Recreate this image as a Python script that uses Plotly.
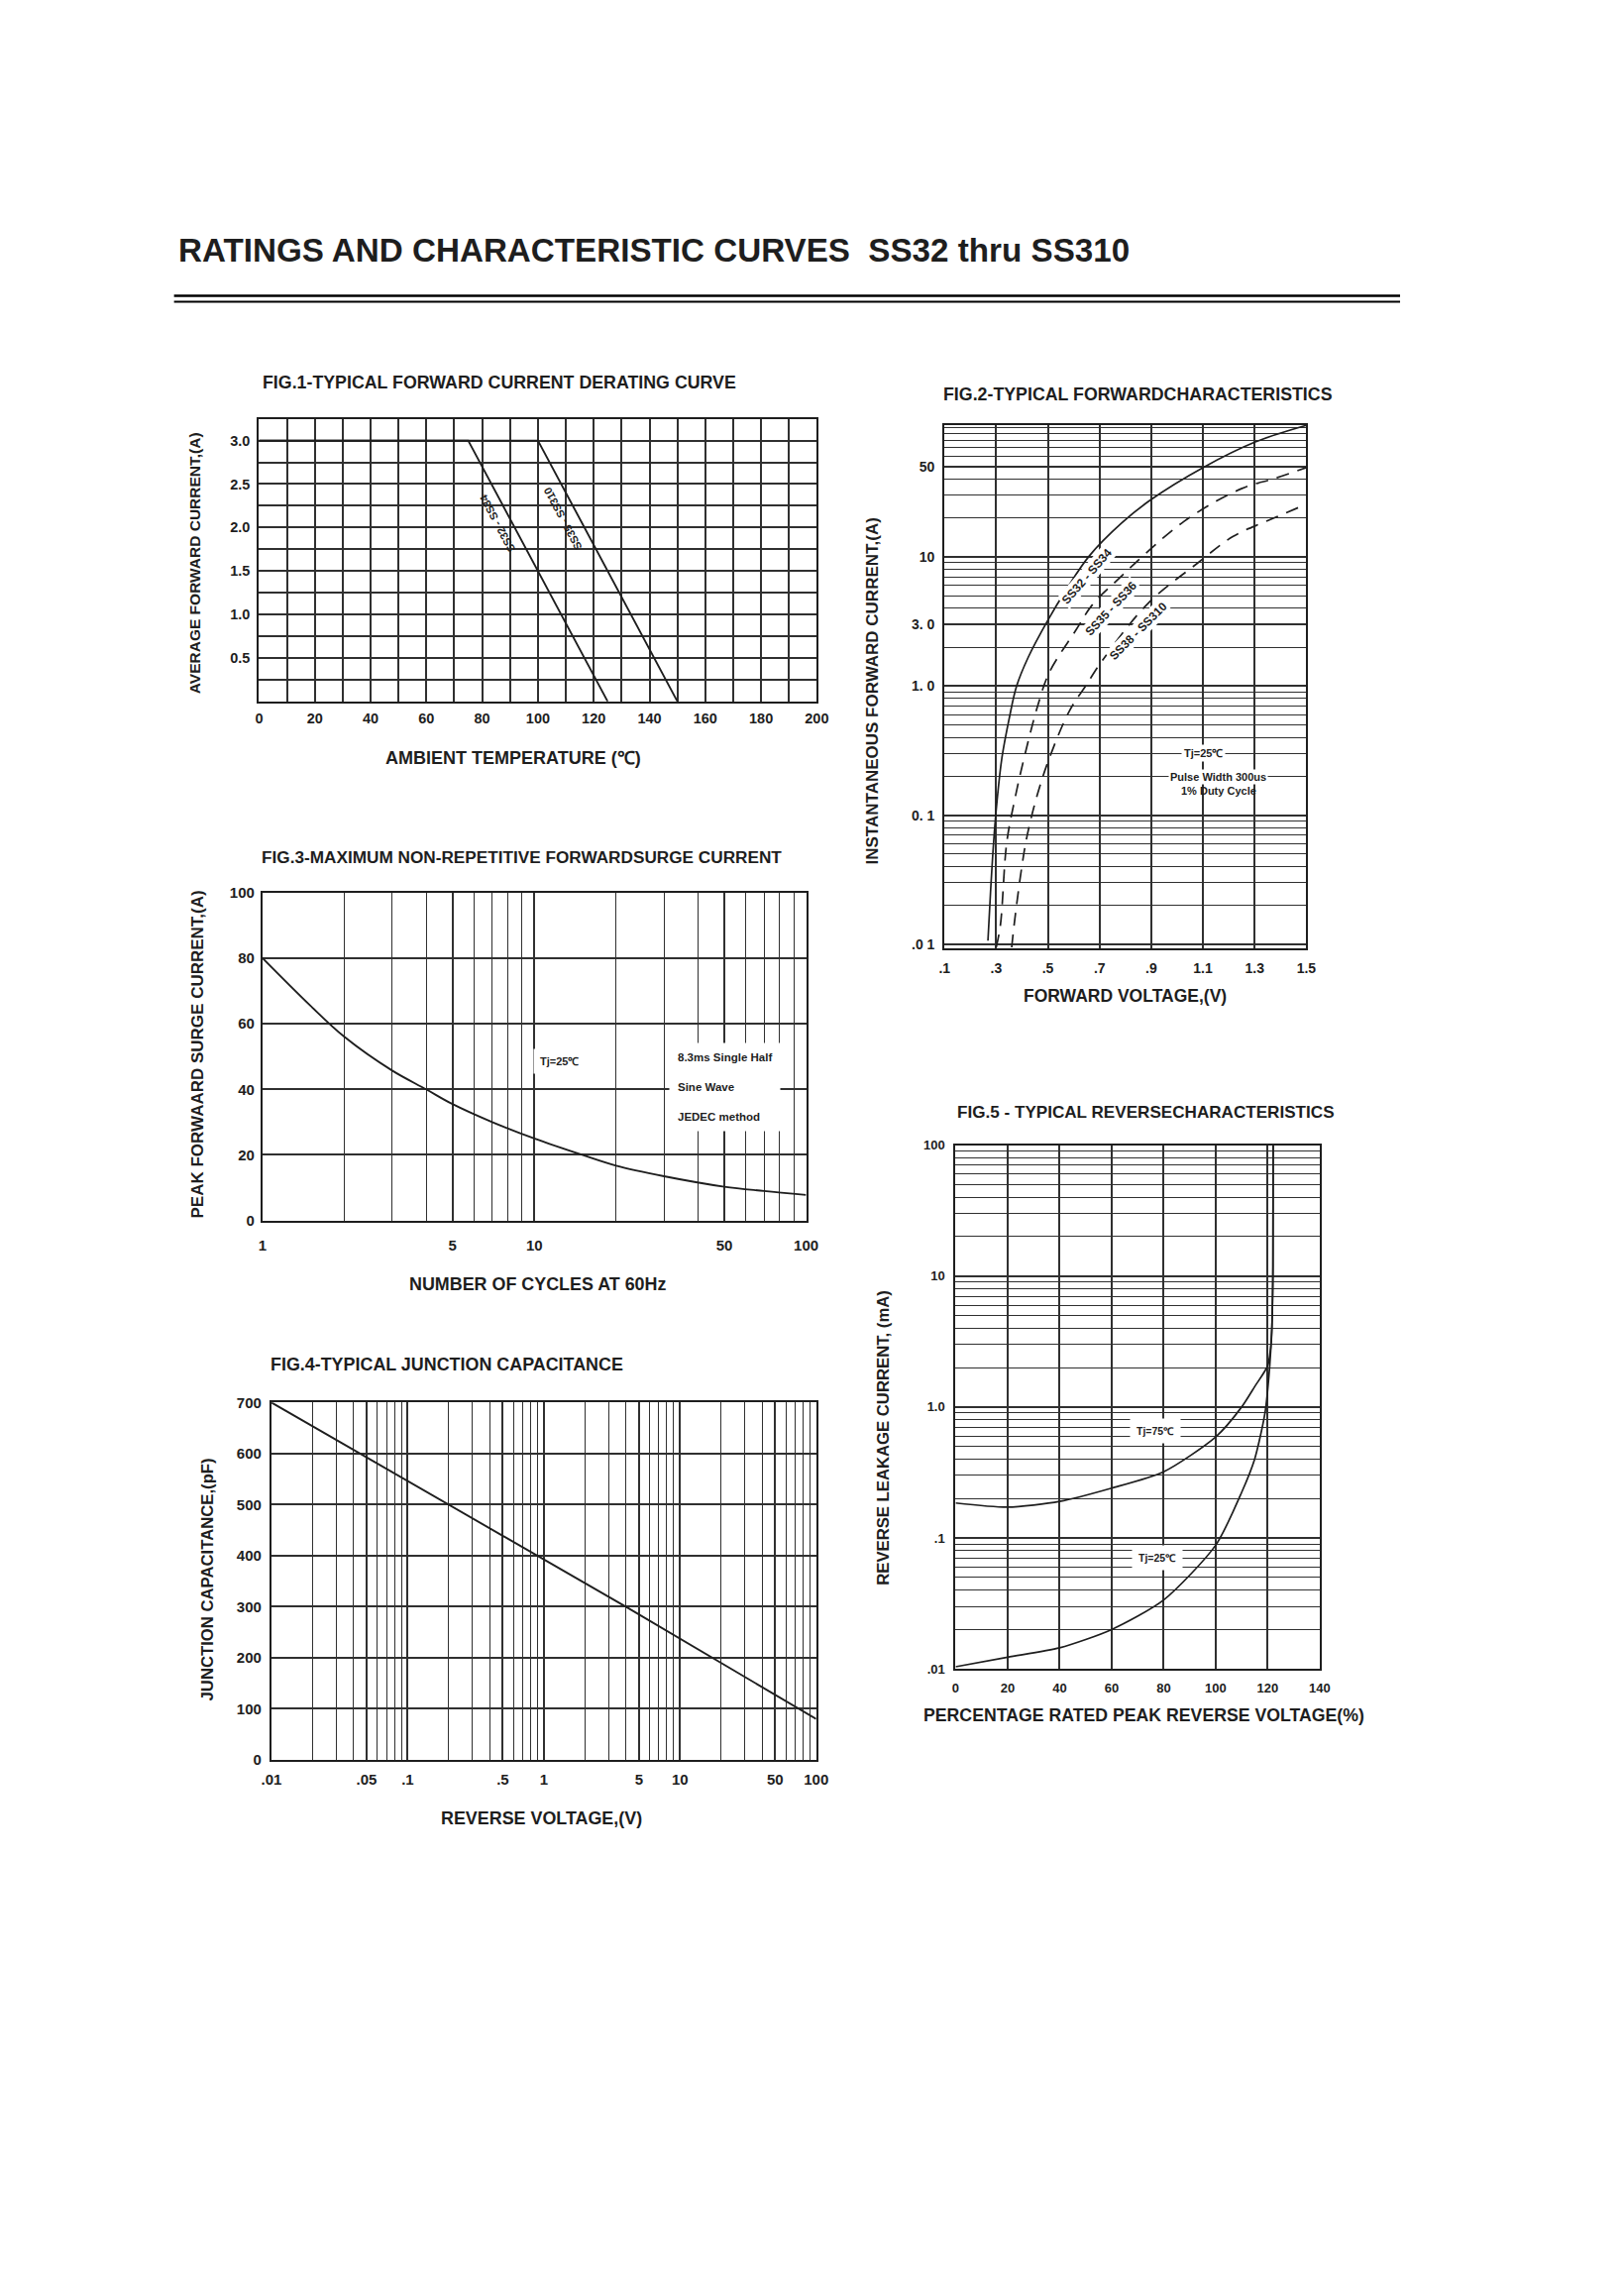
import plotly.graph_objects as go

W, H = 1638, 2317

# FIG.1 derating curve
temp_ss32_34 = [0, 75, 125]
amp_ss32_34 = [3.0, 3.0, 0.0]
temp_ss35_310 = [0, 100, 150]
amp_ss35_310 = [3.0, 3.0, 0.0]

# FIG.2 forward characteristics
vf_ss32_34 = [0.268, 0.278, 0.29, 0.303, 0.322, 0.351, 0.379, 0.424, 0.5, 0.57, 0.659, 0.786, 0.9, 1.1, 1.3, 1.5]
if_ss32_34 = [0.0107, 0.0254, 0.062, 0.128, 0.278, 0.57, 1.0, 1.67, 3.23, 5.53, 10.1, 18.3, 27.8, 49, 77, 104]
vf_ss35_36 = [0.30, 0.316, 0.341, 0.373, 0.405, 0.462, 0.506, 0.608, 0.671, 0.748, 1.027, 1.249, 1.376, 1.5]
if_ss35_36 = [0.0095, 0.014, 0.062, 0.136, 0.262, 0.72, 1.28, 2.7, 4.23, 6.05, 18.8, 33.7, 40.3, 49]
vf_ss38_310 = [0.36, 0.369, 0.398, 0.42, 0.459, 0.506, 0.583, 0.646, 0.71, 0.887, 1.078, 1.217, 1.344, 1.5]
if_ss38_310 = [0.0095, 0.014, 0.0386, 0.070, 0.144, 0.278, 0.64, 1.0, 1.57, 4.35, 8.9, 14.4, 18.8, 25.5]

# FIG.3 surge current
cycles = [1, 1.5, 2, 3, 4, 5, 7, 10, 15, 20, 30, 50, 70, 100]
surge_amp = [80, 65.5, 56, 45.7, 40, 35.5, 30, 25, 20, 16.7, 13.5, 10.3, 9, 7.8]

# FIG.4 junction capacitance
rev_volt = [0.01, 0.2, 4, 100]
cap_pf = [700, 500, 300, 80]

# FIG.5 reverse characteristics
pct_75 = [0, 20, 40, 60, 80, 100, 110, 115, 120, 121.4, 122, 122.1]
ir_75 = [0.185, 0.172, 0.19, 0.24, 0.32, 0.59, 1.0, 1.43, 2.07, 3.2, 10, 100]
pct_25 = [0, 20, 40, 60, 80, 100, 110, 115, 119, 120.8, 121.6, 122.05, 122.1]
ir_25 = [0.0104, 0.0123, 0.0145, 0.02, 0.0336, 0.088, 0.223, 0.40, 0.91, 2.07, 4.0, 12, 100]

# tick labels
fig1_xticks = list(range(0, 201, 20))
fig1_yticks = [0.5, 1.0, 1.5, 2.0, 2.5, 3.0]
fig2_xticks = [0.1, 0.3, 0.5, 0.7, 0.9, 1.1, 1.3, 1.5]
fig2_xtext = [".1", ".3", ".5", ".7", ".9", "1.1", "1.3", "1.5"]
fig2_yticks = [0.01, 0.1, 1, 3, 10, 50]
fig2_ytext = [".0 1", "0. 1", "1. 0", "3. 0", "10", "50"]
fig3_xticks = [1, 5, 10, 50, 100]
fig3_yticks = [0, 20, 40, 60, 80, 100]
fig4_xticks = [0.01, 0.05, 0.1, 0.5, 1, 5, 10, 50, 100]
fig4_xtext = [".01", ".05", ".1", ".5", "1", "5", "10", "50", "100"]
fig4_yticks = list(range(0, 701, 100))
fig5_xticks = list(range(0, 141, 20))
fig5_yticks = [0.01, 0.1, 1, 10, 100]
fig5_ytext = [".01", ".1", "1.0", "10", "100"]

LOG_DIGITS = [1, 2, 3, 4, 5, 6, 7, 8, 9]


def log_grid(lo_exp, hi_exp):
    vals = [d * 10.0 ** e for e in range(lo_exp, hi_exp) for d in LOG_DIGITS]
    return vals + [10.0 ** hi_exp]


FONT = "Liberation Sans, Arial, sans-serif"
INK = "#1e1e1e"
GRID = "#303030"


def xdom(a, b):
    return [a / W, b / W]


def ydom(top, bottom):
    return [1 - bottom / H, 1 - top / H]


def tfont(size):
    return dict(family=FONT, size=size, color=INK, weight="bold")


def axis(domain, anchor, size, **kw):
    d = dict(domain=domain, anchor=anchor, showgrid=True, gridcolor=GRID, gridwidth=1.7,
             zeroline=False, showline=True, mirror=True, linecolor=INK, linewidth=2.2,
             ticks="", tickfont=tfont(size))
    d.update(kw)
    return d


fig = go.Figure()
line_style = dict(color=INK, width=1.9)
dashed = dict(color=INK, width=1.7, shape="spline", dash="13px,9px")

fig.add_trace(go.Scatter(x=temp_ss32_34, y=amp_ss32_34, xaxis="x", yaxis="y", mode="lines", line=line_style))
fig.add_trace(go.Scatter(x=temp_ss35_310, y=amp_ss35_310, xaxis="x", yaxis="y", mode="lines", line=line_style))

fig.add_trace(go.Scatter(x=vf_ss32_34, y=if_ss32_34, xaxis="x2", yaxis="y2", mode="lines",
                         line=dict(color=INK, width=1.7, shape="spline")))
fig.add_trace(go.Scatter(x=vf_ss35_36, y=if_ss35_36, xaxis="x2", yaxis="y2", mode="lines", line=dashed))
fig.add_trace(go.Scatter(x=vf_ss38_310, y=if_ss38_310, xaxis="x2", yaxis="y2", mode="lines", line=dashed))

fig.add_trace(go.Scatter(x=cycles, y=surge_amp, xaxis="x3", yaxis="y3", mode="lines",
                         line=dict(color=INK, width=1.9, shape="spline")))

fig.add_trace(go.Scatter(x=rev_volt, y=cap_pf, xaxis="x4", yaxis="y4", mode="lines", line=line_style))

fig.add_trace(go.Scatter(x=pct_75, y=ir_75, xaxis="x5", yaxis="y5", mode="lines",
                         line=dict(color=INK, width=1.7, shape="spline", smoothing=0.7)))
fig.add_trace(go.Scatter(x=pct_25, y=ir_25, xaxis="x5", yaxis="y5", mode="lines",
                         line=dict(color=INK, width=1.7, shape="spline", smoothing=0.7)))


def minor_lin(step):
    return dict(dtick=step, showgrid=True, gridcolor=GRID, gridwidth=1.7, ticks="")


def minor_log(lo, hi):
    return dict(tickmode="array", tickvals=log_grid(lo, hi), showgrid=True,
                gridcolor=GRID, gridwidth=1.4, ticks="")


fig.update_layout(
    width=W, height=H, margin=dict(l=0, r=0, t=0, b=0),
    paper_bgcolor="white", plot_bgcolor="white", showlegend=False,
    xaxis=axis(xdom(255, 826), "y", 14.5, range=[0, 200], tickvals=fig1_xticks, minor=minor_lin(10),
               ticklabelstandoff=3),
    yaxis=axis(ydom(416.7, 704), "x", 14.5, range=[0, 3.25], tickvals=fig1_yticks,
               ticktext=[f"{v:.1f}" for v in fig1_yticks], minor=minor_lin(0.25), ticklabelstandoff=4),
    xaxis2=axis(xdom(956.7, 1327), "y2", 14, range=[0.1, 1.5], tickvals=fig2_xticks, ticktext=fig2_xtext,
                ticklabelstandoff=6),
    yaxis2=axis(ydom(423, 955), "x2", 14, type="log", range=[-2.03, 2.02], tickvals=fig2_yticks,
                ticktext=fig2_ytext, minor=minor_log(-2, 2), ticklabelstandoff=5),
    xaxis3=axis(xdom(258.6, 815), "y3", 15, type="log", range=[0, 2], tickvals=fig3_xticks,
                ticktext=[str(v) for v in fig3_xticks], minor=minor_log(0, 2), ticklabelstandoff=10),
    yaxis3=axis(ydom(898.3, 1231.7), "x3", 15, range=[0, 100], tickvals=fig3_yticks, ticklabelstandoff=3),
    xaxis4=axis(xdom(267.7, 825.3), "y4", 15, type="log", range=[-2, 2], tickvals=fig4_xticks,
                ticktext=fig4_xtext, minor=minor_log(-2, 2), ticklabelstandoff=5),
    yaxis4=axis(ydom(1416.7, 1780), "x4", 15, range=[0, 700], tickvals=fig4_yticks, ticklabelstandoff=5),
    xaxis5=axis(xdom(968, 1340.7), "y5", 13, range=[0, 140], tickvals=fig5_xticks, ticklabelstandoff=6),
    yaxis5=axis(ydom(1155, 1687.6), "x5", 13, type="log", range=[-2, 2], tickvals=fig5_yticks,
                ticktext=fig5_ytext, minor=minor_log(-2, 2), ticklabelstandoff=6),
)


def label(text, px, py, size, angle=0, xanchor="center", bg=None, pad=1, align="center"):
    fig.add_annotation(text=text, x=px / W, y=1 - py / H, xref="paper", yref="paper",
                       showarrow=False, textangle=angle, xanchor=xanchor, yanchor="middle",
                       align=align, bgcolor=bg, borderpad=pad, font=tfont(size))


# page header and double rule
label("RATINGS AND CHARACTERISTIC CURVES  SS32 thru SS310", 170, 245, 33.2, xanchor="left")
for rule_y, rule_w in [(291.7, 2.5), (297.6, 2)]:
    fig.add_shape(type="line", xref="paper", yref="paper", x0=168 / W, x1=1423 / W,
                  y0=1 - rule_y / H, y1=1 - rule_y / H, line=dict(color="black", width=rule_w))

# FIG.1
label("FIG.1-TYPICAL FORWARD CURRENT DERATING CURVE", 257, 380, 17.8, xanchor="left")
label("AVERAGE FORWARD CURRENT,(A)", 190, 563, 15.5, angle=-90)
label("AMBIENT TEMPERATURE (\u2103)", 515, 762, 18)
label("SS32 - SS34", 499, 523, 11, angle=-118)
label("SS35 - SS310", 566, 518, 11, angle=-118)

# FIG.2
label("FIG.2-TYPICAL FORWARDCHARACTERISTICS", 953, 392, 17.8, xanchor="left")
label("INSTANTANEOUS FORWARD CURRENT,(A)", 883, 694, 17, angle=-90)
label("FORWARD VOLTAGE,(V)", 1142, 1003, 17.5)
label("SS32 - SS34", 1102, 577, 12, angle=-49, bg="white")
label("SS35 - SS36", 1127, 609, 12, angle=-47, bg="white")
label("SS38 - SS310", 1155, 633, 12, angle=-45, bg="white")
label("Tj=25\u2103", 1222, 757, 11, bg="white", pad=2)
label("Pulse Width 300us", 1237, 780.5, 11, bg="white", pad=1)
label("1% Duty Cycle", 1237, 795, 11)

# FIG.3
label("FIG.3-MAXIMUM NON-REPETITIVE FORWARDSURGE CURRENT", 256, 862, 17.2, xanchor="left")
label("PEAK FORWAARD SURGE CURRENT,(A)", 192, 1063, 17, angle=-90)
label("NUMBER OF CYCLES AT 60Hz", 540, 1297, 17.9)
label("Tj=25\u2103", 562, 1070, 11, bg="white", pad=6)
label("8.3ms Single Half<br><br>Sine Wave<br><br>JEDEC method", 674, 1096, 11.5,
      xanchor="left", bg="white", pad=8, align="left")

# FIG.4
label("FIG.4-TYPICAL JUNCTION CAPACITANCE", 265, 1378, 17.9, xanchor="left")
label("JUNCTION CAPACITANCE,(pF)", 202, 1597, 16.7, angle=-90)
label("REVERSE VOLTAGE,(V)", 544, 1840, 17.9)

# FIG.5
label("FIG.5 - TYPICAL REVERSECHARACTERISTICS", 968, 1122, 17.1, xanchor="left")
label("REVERSE LEAKAGE CURRENT, (mA)", 894, 1452, 16.7, angle=-90)
label("PERCENTAGE RATED PEAK REVERSE VOLTAGE(%)", 1161, 1735, 17.7)
label("Tj=75\u2103", 1172, 1446, 10.5, bg="white", pad=6)
label("Tj=25\u2103", 1174, 1575, 10.5, bg="white", pad=6)

fig.write_html("out.html", config={"displayModeBar": False},
               post_script="document.body.style.margin='0px';")
